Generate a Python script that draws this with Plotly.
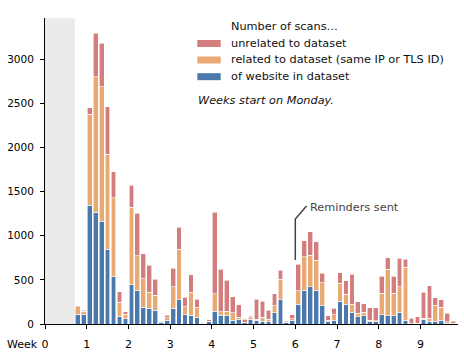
import plotly.graph_objects as go

# days since start of week 0 (Monday), one bar per day
days = list(range(5, 69))

# number of scans per day, per category (stack segments)
website = [113, 102, 1347, 1264, 1159, 845, 536, 83, 57, 442, 385, 189, 176, 158, 19, 45,
           177, 272, 102, 98, 72, 4, 23, 147, 98, 91, 45, 53, 15, 53, 45, 34, 23, 128, 272, 19,
           45, 226, 385, 423, 385, 204, 26, 45, 260, 223, 132, 83, 94, 26, 26, 102, 94, 94,
           128, 45, 3, 5, 53, 34, 30, 45, 8, 3]
related = [83, 45, 1027, 1533, 1528, 1080, 891, 166, 52, 879, 389, 322, 186, 167, 7, 28,
           246, 577, 94, 264, 117, 1, 11, 193, 38, 56, 80, 22, 5, 19, 8, 41, 30, 76, 234, 7,
           15, 148, 377, 358, 336, 264, 19, 57, 200, 113, 94, 38, 38, 19, 12, 245, 525, 253,
           295, 600, 2, 3, 11, 30, 185, 144, 18, 5]
unrelated = [8, 8, 75, 494, 491, 536, 298, 117, 31, 253, 479, 282, 306, 181, 8, 25,
             207, 249, 106, 193, 94, 1, 15, 928, 483, 351, 181, 144, 33, 15, 230, 185, 102, 136, 105, 12,
             42, 305, 178, 264, 211, 106, 46, 75, 121, 151, 336, 132, 98, 140, 147, 193, 132, 193,
             320, 91, 59, 75, 295, 370, 83, 86, 95, 26]

week_ticks = list(range(10))
y_ticks = [0, 500, 1000, 1500, 2000, 2500, 3000]
first_day = 5
reminder_week = 6

BLUE = "#4b79ac"
ORANGE = "#e9a972"
RED = "#d47d7e"
TXT = 11.3

x = [(d + 0.5) / 7 for d in days]

fig = go.Figure()
for name, vals, col in [("of website in dataset", website, BLUE),
                        ("related to dataset (same IP or TLS ID)", related, ORANGE),
                        ("unrelated to dataset", unrelated, RED)]:
    fig.add_trace(go.Bar(
        x=x, y=vals, name=name, width=0.8 / 7,
        marker=dict(color=col, line=dict(color="white", width=0.6)),
        showlegend=False,
    ))

# plot area in pixels (for legend placement)
L, R, T, B = 45, 458, 18, 324
def px(xp, yp):
    return (xp - L) / (R - L), (B - yp) / (B - T)

shapes = [dict(type="rect", xref="x", yref="paper", x0=0, x1=first_day / 7, y0=0, y1=1,
               fillcolor="#ebebeb", line_width=0, layer="below")]
annotations = []

leg = [("unrelated to dataset", RED, 43.5),
       ("related to dataset (same IP or TLS ID)", ORANGE, 60),
       ("of website in dataset", BLUE, 76.7)]
for label, col, yc in leg:
    x0, y0 = px(197.3, yc + 3.5)
    x1, y1 = px(220.7, yc - 3.5)
    shapes.append(dict(type="rect", xref="paper", yref="paper", x0=x0, x1=x1, y0=y0, y1=y1,
                       fillcolor=col, line_width=0))
    tx, ty = px(229, yc)
    annotations.append(dict(xref="paper", yref="paper", x=tx, y=ty, text=label, showarrow=False,
                            xanchor="left", yanchor="middle", font=dict(size=TXT, color="#111")))

tx, ty = px(229, 26.7)
annotations.append(dict(xref="paper", yref="paper", x=tx, y=ty, text="Number of scans…",
                        showarrow=False, xanchor="left", yanchor="middle",
                        font=dict(size=TXT, color="#111")))
tx, ty = px(196, 100)
annotations.append(dict(xref="paper", yref="paper", x=tx, y=ty, text="<i>Weeks start on Monday.</i>",
                        showarrow=False, xanchor="left", yanchor="middle",
                        font=dict(size=TXT, color="#111")))

# reminders callout
shapes.append(dict(type="path", xref="x", yref="y",
                   path=f"M {reminder_week},725 L {reminder_week},1189 L {reminder_week + 0.27},1336",
                   line=dict(color="#444", width=1.5)))
annotations.append(dict(xref="x", yref="y", x=reminder_week + 0.31, y=1320, text="Reminders sent",
                        showarrow=False, xanchor="left", yanchor="middle",
                        font=dict(size=TXT, color="#444")))

# "Week" label before the 0 tick
annotations.append(dict(xref="x", yref="paper", x=0, y=0, text="Week", showarrow=False,
                        xanchor="right", yanchor="middle", xshift=-5, yshift=-20,
                        font=dict(size=11, color="black")))

fig.update_layout(
    barmode="stack",
    bargap=0,
    width=464, height=359,
    margin=dict(l=L, r=464 - R, t=T, b=359 - B),
    plot_bgcolor="white", paper_bgcolor="white",
    font=dict(family="DejaVu Sans", size=11, color="black"),
    shapes=shapes,
    annotations=annotations,
    xaxis=dict(range=[0, 9.9], tickvals=week_ticks, ticktext=[str(w) for w in week_ticks],
               ticks="outside", ticklen=4, tickcolor="black", showline=True, linecolor="black",
               linewidth=1, showgrid=False, zeroline=False, tickfont=dict(size=11),
               ticklabelstandoff=6),
    yaxis=dict(range=[0, 3465], tickvals=y_ticks, ticks="outside", ticklen=4, tickcolor="black",
               showline=True, linecolor="black", linewidth=1, showgrid=False, zeroline=False,
               tickfont=dict(size=10.5), ticklabelstandoff=4),
)

fig.write_html("out.html", config={"displayModeBar": False, "staticPlot": True},
               post_script="document.body.style.margin='0';")
